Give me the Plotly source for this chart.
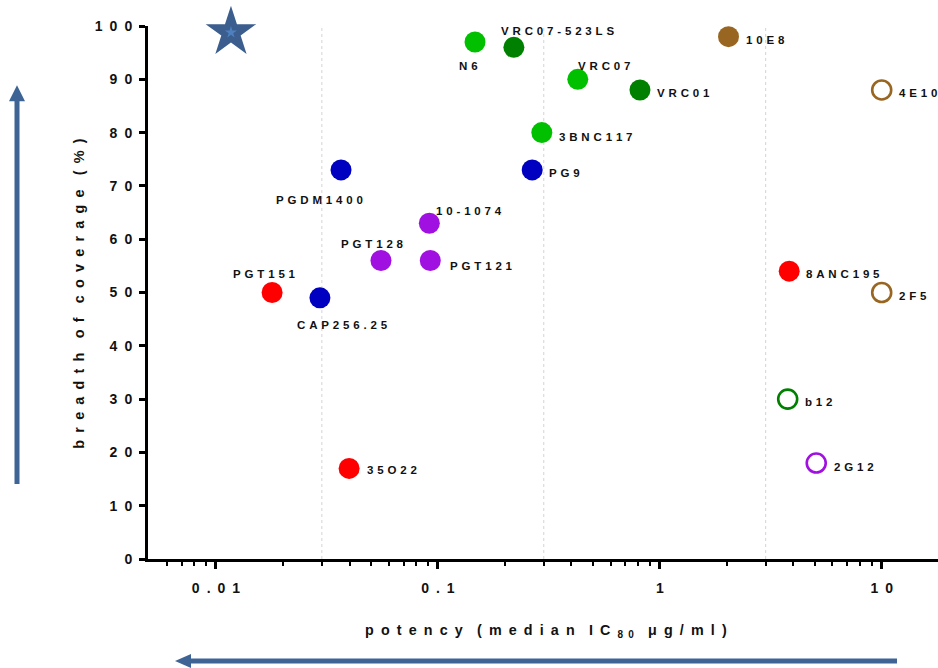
import math
import plotly.graph_objects as go

# ---------------- data ----------------
antibodies = ["N6", "VRC07-523LS", "VRC07", "VRC01", "10E8", "4E10", "3BNC117", "PG9",
              "PGDM1400", "10-1074", "PGT128", "PGT121", "PGT151", "CAP256.25", "35O22",
              "8ANC195", "2F5", "b12", "2G12"]
potency_ic80 = [0.147, 0.22, 0.427, 0.814, 2.04, 10, 0.294, 0.266,
                0.0366, 0.0915, 0.0554, 0.0924, 0.0179, 0.0294, 0.0398,
                3.83, 10, 3.77, 5.07]
breadth_pct = [97, 96, 90, 88, 98, 88, 80, 73,
               73, 63, 56, 56, 50, 49, 17,
               54, 50, 30, 18]
group = ["cd4bs_light", "cd4bs_dark", "cd4bs_light", "cd4bs_dark", "mper", "mper_open", "cd4bs_light", "v2",
         "v2", "v3", "v3", "v3", "interface", "v2", "interface",
         "interface", "mper_open", "cd4bs_open", "v3_open"]

ideal_potency = [0.01168]
ideal_breadth = [98.8]

x_tick_vals = [0.01, 0.1, 1, 10]
x_tick_text = ["0.01", "0.1", "1", "10"]
y_tick_vals = [0, 10, 20, 30, 40, 50, 60, 70, 80, 90, 100]
y_tick_text = ["0", "10", "20", "30", "40", "50", "60", "70", "80", "90", "100"]
grid_vals = [0.03, 0.3, 3]

# ---------------- styles ----------------
GROUP_STYLE = {
    "cd4bs_light": dict(symbol="circle", color="#00C000", fill=True),
    "cd4bs_dark": dict(symbol="circle", color="#008000", fill=True),
    "cd4bs_open": dict(symbol="circle-open", color="#008000", fill=False),
    "mper": dict(symbol="circle", color="#996622", fill=True),
    "mper_open": dict(symbol="circle-open", color="#996622", fill=False),
    "v2": dict(symbol="circle", color="#0000C0", fill=True),
    "v3": dict(symbol="circle", color="#A010E0", fill=True),
    "v3_open": dict(symbol="circle-open", color="#A010E0", fill=False),
    "interface": dict(symbol="circle", color="#FF0000", fill=True),
}

# label placement: (xanchor, dx px, dy px down)
LABEL_POS = {
    "N6": ("center", -6.5, 24.3),
    "VRC07-523LS": ("left", -14.7, -16),
    "VRC07": ("left", -2, -13.3),
    "VRC01": ("left", 15.3, 3),
    "10E8": ("left", 15.7, 3.3),
    "4E10": ("left", 15, 3),
    "3BNC117": ("left", 15.3, 4),
    "PG9": ("left", 15.3, 3.3),
    "PGDM1400": ("center", -21.5, 30),
    "10-1074": ("left", 5, -12),
    "PGT128": ("center", -8.5, -16.3),
    "PGT121": ("left", 17.4, 5.7),
    "PGT151": ("center", -7.3, -18.3),
    "CAP256.25": ("center", 22.5, 26.7),
    "35O22": ("left", 16, 2),
    "8ANC195": ("left", 15, 3),
    "2F5": ("left", 15, 3.7),
    "b12": ("left", 15.6, 3.3),
    "2G12": ("left", 15.4, 4),
}

EN = "\u2002"
THIRD = "\u2004"


def sp(s, gap=EN):
    return (gap * 2).join(gap.join(w) for w in s.split(" "))


FONT = "Liberation Sans, Arial, sans-serif"
ARROW = "#3E6495"

W, H = 938, 668
L, R, T, B = 148, 0, 25.7, 109
PW, PH = W - L - R, H - T - B


def px(xp):
    return (xp - L) / PW


def py(yp):
    return (H - B - yp) / PH


fig = go.Figure()

# dotted reference gridlines
gx, gy = [], []
for g in grid_vals:
    gx += [g, g, None]
    gy += [0, 100, None]
fig.add_trace(go.Scatter(x=gx, y=gy, mode="lines", hoverinfo="skip",
                         line=dict(color="#D4D4D4", width=1, dash="dot"), showlegend=False))

# antibody points, one trace per group
for gname, st in GROUP_STYLE.items():
    idx = [i for i, g in enumerate(group) if g == gname]
    if not idx:
        continue
    xs = [potency_ic80[i] for i in idx]
    ys = [breadth_pct[i] for i in idx]
    if st["fill"]:
        marker = dict(symbol="circle", size=21, color=st["color"], line=dict(width=0))
    else:
        marker = dict(symbol="circle-open", size=19, color=st["color"], line=dict(width=2.6, color=st["color"]))
    fig.add_trace(go.Scatter(x=xs, y=ys, mode="markers", marker=marker, cliponaxis=False,
                             showlegend=False, text=[antibodies[i] for i in idx]))

# ideal antibody star
fig.add_trace(go.Scatter(x=ideal_potency, y=ideal_breadth, mode="markers", cliponaxis=False,
                         marker=dict(symbol="star", size=38, color="#3B5E8E", line=dict(width=0)),
                         showlegend=False))
fig.add_trace(go.Scatter(x=ideal_potency, y=ideal_breadth, mode="markers", cliponaxis=False,
                         marker=dict(symbol="star", size=9, color="#4E7FBE", line=dict(width=0)),
                         showlegend=False))

annotations = []
for name, xv, yv in zip(antibodies, potency_ic80, breadth_pct):
    anc, dx, dy = LABEL_POS[name]
    annotations.append(dict(x=math.log10(xv), y=yv, xref="x", yref="y",
                            text="<b>" + sp(name, THIRD) + "</b>",
                            showarrow=False, xanchor=anc, yanchor="middle",
                            xshift=dx, yshift=-dy,
                            font=dict(family=FONT, size=11.5, color="#111111")))

# axis titles
annotations.append(dict(x=px(546), y=py(630.7), xref="paper", yref="paper", showarrow=False,
                        text="<b>" + sp("potency (median") + EN * 2 + sp("IC") + EN + "<sub>" + sp("80") + "</sub>"
                        + EN * 2 + sp("μg/ml)") + "</b>",
                        xanchor="center", yanchor="middle",
                        font=dict(family=FONT, size=14.3, color="#111111")))
annotations.append(dict(x=px(79), y=py(293.5), xref="paper", yref="paper", showarrow=False,
                        text="<b>" + sp("breadth of coverage (%)") + "</b>", textangle=-90,
                        xanchor="center", yanchor="middle",
                        font=dict(family=FONT, size=14.4, color="#111111")))

# arrows (shapes in paper coordinates)
shapes = [
    dict(type="line", xref="paper", yref="paper", x0=px(17), x1=px(17), y0=py(484), y1=py(99),
         line=dict(color=ARROW, width=5)),
    dict(type="path", xref="paper", yref="paper",
         path=f"M {px(17)} {py(85)} L {px(9)} {py(101)} L {px(25)} {py(101)} Z",
         fillcolor=ARROW, line=dict(width=0)),
    dict(type="line", xref="paper", yref="paper", x0=px(897), x1=px(189), y0=py(661), y1=py(661),
         line=dict(color=ARROW, width=5)),
    dict(type="path", xref="paper", yref="paper",
         path=f"M {px(175)} {py(661)} L {px(191)} {py(654)} L {px(191)} {py(668)} Z",
         fillcolor=ARROW, line=dict(width=0)),
]

minor_vals = []
for dec in [0.001, 0.01, 0.1, 1]:
    for k in range(2, 10):
        v = dec * k
        if 0.0055 < v < 17:
            minor_vals.append(v)

fig.update_layout(
    width=W, height=H,
    margin=dict(l=L, r=R, t=T, b=B),
    paper_bgcolor="white", plot_bgcolor="white",
    showlegend=False,
    annotations=annotations,
    shapes=shapes,
    font=dict(family=FONT, color="#111111"),
    xaxis=dict(type="log", range=[-2.3064, 1.2537], showgrid=False, zeroline=False,
               showline=True, linecolor="black", linewidth=3,
               tickvals=x_tick_vals, ticktext=["<b>" + sp(t) + "</b>" for t in x_tick_text],
               ticks="outside", ticklen=7, tickwidth=2.5, tickcolor="black",
               ticklabelstandoff=7,
               tickfont=dict(family=FONT, size=14, color="#111111"),
               minor=dict(tickvals=minor_vals, ticks="outside", ticklen=4, tickwidth=2,
                          tickcolor="black", showgrid=False)),
    yaxis=dict(range=[0, 100], showgrid=False, zeroline=False,
               showline=True, linecolor="black", linewidth=3,
               tickvals=y_tick_vals, ticktext=["<b>" + sp(t) + "</b>" for t in y_tick_text],
               ticks="outside", ticklen=6, tickwidth=2.5, tickcolor="black",
               ticklabelstandoff=4,
               tickfont=dict(family=FONT, size=14, color="#111111")),
)

fig.write_html("out.html")
